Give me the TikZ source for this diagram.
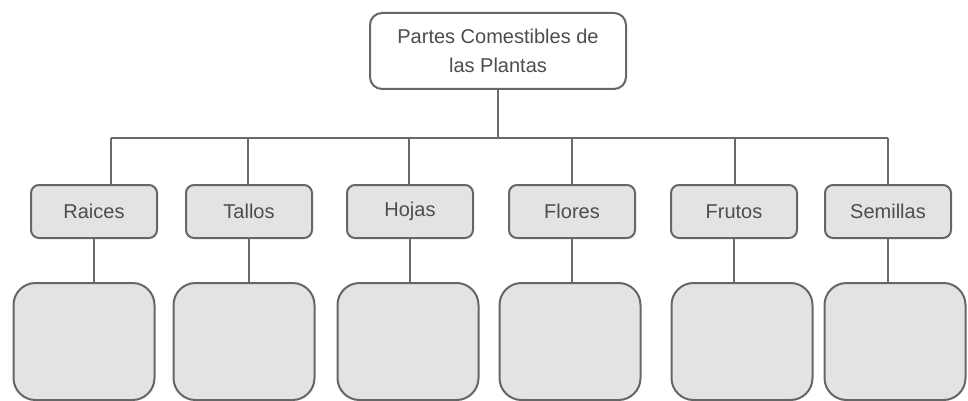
\documentclass[tikz,border=0pt]{standalone}
\usepackage{fontspec}
\setmainfont{Liberation Sans}
\usetikzlibrary{positioning}
\definecolor{boxgray}{HTML}{666666}
\definecolor{cellgray}{HTML}{E3E3E3}
\definecolor{txtgray}{HTML}{4D4D4D}
\definecolor{linegray}{HTML}{6A6A6A}

\begin{document}
\begin{tikzpicture}[
    x=1pt, y=-1pt,
    label/.style={font=\fontsize{20}{29}\selectfont, text=txtgray},
    topbox/.style={draw=boxgray, line width=2pt, rounded corners=12pt,
                   fill=white, minimum width=256pt, minimum height=76pt,
                   align=center, inner sep=0pt, label},
    part/.style={draw=boxgray, line width=2pt, rounded corners=8pt,
                 fill=cellgray, minimum width=126pt, minimum height=53pt,
                 inner sep=0pt, label},
    slot/.style={draw=boxgray, line width=2pt, rounded corners=22pt,
                 fill=cellgray, minimum width=141pt, minimum height=117pt,
                 inner sep=0pt},
    link/.style={draw=linegray, line width=1.5pt}
  ]
  \useasboundingbox (0,0) rectangle (968,401);

  % Title
  \node[topbox] (top) at (498,51) {Partes Comestibles de\\las Plantas};

  % Parts and empty boxes
  \foreach \name/\sx/\bx/\lx [count=\i] in {Raices/94/84/111,
      Tallos/249/244/248, Hojas/410/408/409, Flores/572/570/572,
      Frutos/734/742/735, Semillas/888/895/888} {
    \coordinate (bus\i) at (\lx,138);
    \node[part] (s\i) at (\sx,211.5) {\name};
    \node[slot] (b\i) at (\bx,341.5) {};
    \draw[link] (bus\i) -- (bus\i |- s\i.north);
    \draw[link] (s\i.south) -- (s\i.south |- b\i.north);
  }

  % Bus line
  \draw[link] (bus1) -- (bus6);
  \draw[link] (top.south) -- (top.south |- bus1);
\end{tikzpicture}
\end{document}
